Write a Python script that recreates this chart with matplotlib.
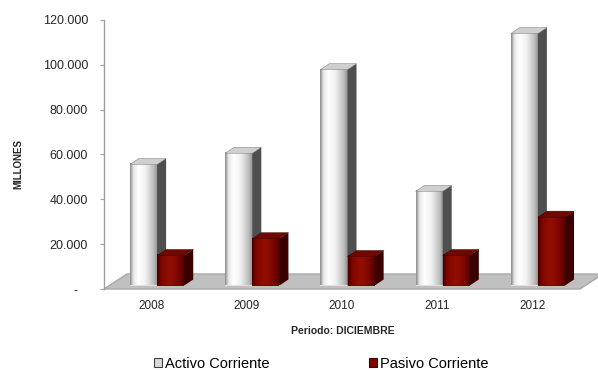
import matplotlib
matplotlib.use("Agg")
import matplotlib.pyplot as plt
import numpy as np
from matplotlib.patches import Polygon, Patch
from matplotlib.colors import to_rgb

# ---- data ----
years = ["2008", "2009", "2010", "2011", "2012"]
activo = [54000, 59000, 96300, 42000, 112400]
pasivo = [13400, 20900, 12950, 13400, 30500]
series_names = ["Activo Corriente", "Pasivo Corriente"]
yticks = [0, 20000, 40000, 60000, 80000, 100000, 120000]

plt.rcParams['font.family'] = ['Liberation Sans', 'DejaVu Sans']
NARROW = ['Liberation Sans Narrow', 'Liberation Sans', 'DejaVu Sans']

W, H = 598, 370
fig = plt.figure(figsize=(W / 100, H / 100), dpi=100)
ax_l, ax_r, ax_b, ax_t = 104, 580, 289, 20
ax = fig.add_axes([ax_l / W, (H - ax_b) / H, (ax_r - ax_l) / W, (ax_b - ax_t) / H])
ax.set_xlim(0, len(years))
ax.set_ylim(0, 120000)

# pixel -> data conversions for 3D offsets
px_x = len(years) / (ax_r - ax_l)
px_y = 120000 / (ax_b - ax_t)

# floor
fdx, fdy = 23 * px_x, 15 * px_y
n = len(years)
floor = Polygon([(0, 0), (n, 0), (n + fdx, fdy), (fdx, fdy)], closed=True,
                facecolor='#c0c0c0', edgecolor='#a8a8a8', lw=1, zorder=1, clip_on=False)
ax.add_patch(floor)

# bars
w = 0.285
bx, by = 5.5 * px_x, 3.5 * px_y
ddx, ddy = 9 * px_x, 6 * px_y


def grad(stops, n=64):
    pos = np.array([s[0] for s in stops])
    cols = np.array([to_rgb(s[1]) for s in stops])
    t = np.linspace(0, 1, n)
    arr = np.stack([np.interp(t, pos, cols[:, k]) for k in range(3)], axis=-1)
    return arr[np.newaxis, :, :]


white_front = grad([(0, '#8c8c8c'), (0.12, '#e8e8e8'), (0.3, '#ffffff'), (0.55, '#f2f2f2'),
                    (0.85, '#bdbdbd'), (1, '#8f8f8f')])
red_front = grad([(0, '#4a0000'), (0.15, '#7e0600'), (0.45, '#930f02'), (0.75, '#7e0700'),
                  (1, '#500000')])
styles = [
    dict(front=white_front, base='#e0e0e0', side='#4f4f4f', top='#cfcfcf', edge='#707070'),
    dict(front=red_front, base='#800000', side='#3a0000', top='#6e0900', edge='#3a0000'),
]

for s_i, (vals, st) in enumerate(zip([activo, pasivo], styles)):
    offs = -w if s_i == 0 else 0.0
    xs = np.arange(n) + 0.5 + offs + bx
    bars = ax.bar(xs, vals, width=w, bottom=by, align='edge', color=st['base'],
                  edgecolor='none', zorder=2 + s_i, clip_on=False)
    for rect in bars:
        xl = rect.get_x()
        xr = xl + rect.get_width()
        b = rect.get_y()
        t = b + rect.get_height()
        ax.imshow(st['front'], extent=[xl, xr, b, t], aspect='auto',
                  interpolation='bilinear', zorder=2 + s_i + 0.05, clip_on=False)
        side = Polygon([(xr, b), (xr + ddx, b + ddy), (xr + ddx, t + ddy), (xr, t)],
                       closed=True, facecolor=st['side'], edgecolor='none',
                       zorder=2 + s_i + 0.1, clip_on=False)
        top = Polygon([(xl, t), (xr, t), (xr + ddx, t + ddy), (xl + ddx, t + ddy)],
                      closed=True, facecolor=st['top'], edgecolor=st['edge'], lw=0.3,
                      zorder=2 + s_i + 0.1, clip_on=False)
        ax.add_patch(side)
        ax.add_patch(top)

ax.set_xlim(0, n)
ax.set_ylim(0, 120000)
ax.set_aspect('auto')

# axes styling
for sp in ['top', 'right', 'bottom']:
    ax.spines[sp].set_visible(False)
ax.spines['left'].set_color('#a0a0a0')
ax.spines['left'].set_linewidth(1.0)
ax.set_facecolor('none')


def fmt(v):
    if v == 0:
        return '-   '
    return f"{int(v):,}".replace(',', '.')


ax.set_yticks(yticks)
ax.set_yticklabels([fmt(v) for v in yticks], fontsize=9, color='#262626')
ax.tick_params(axis='y', length=3, width=0.8, color='#a0a0a0', pad=8.5)
ax.set_xticks(np.arange(n) + 0.5)
ax.set_xticklabels(years, fontsize=8.5, color='#262626')
ax.tick_params(axis='x', length=0, pad=8)

fig.text(18 / W, (H - 164) / H, 'MILLONES', rotation=90, ha='center', va='center',
         fontsize=7, fontweight='bold', family=NARROW, color='#262626')
fig.text(343 / W, (H - 331) / H, 'Periodo: DICIEMBRE', ha='center', va='center',
         fontsize=7.5, fontweight='bold', family=NARROW, color='#262626')

handles = [Patch(facecolor='#d9d9d9', edgecolor='#404040', lw=0.8),
           Patch(facecolor='#800000', edgecolor='#3a0000', lw=0.8)]
fig.legend(handles, series_names, loc='center', bbox_to_anchor=(321 / W, 6.5 / H),
           ncol=2, frameon=False, fontsize=10.5, handlelength=0.55, handleheight=0.55,
           handletextpad=0.2, columnspacing=6.8, borderaxespad=0, borderpad=0)

fig.savefig('out.png', dpi=100, facecolor='white')
